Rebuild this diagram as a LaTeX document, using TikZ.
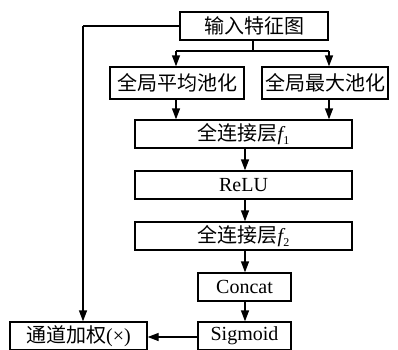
\documentclass[tikz,border=0pt]{standalone}
\usepackage{fontspec}
\setmainfont{Liberation Serif}
\newfontfamily\cjk{Noto Sans CJK SC}
\usetikzlibrary{arrows.meta}
\begin{document}
\begin{tikzpicture}[x=1pt,y=-1pt,
  box/.style={draw, line width=1.3pt, rectangle, inner sep=0pt, font=\fontsize{20}{24}\selectfont},
  arr/.style={line width=1.3pt, -{Triangle[length=11pt,width=8pt]}},
  ln/.style={line width=1.3pt}]
\useasboundingbox (0,0) rectangle (398,349);
\node[box, minimum width=148pt, minimum height=28pt] (in) at (254,26) {\cjk 输入特征图};
\node[box, minimum width=134pt, minimum height=32pt] (avg) at (177,83) {\cjk 全局平均池化};
\node[box, minimum width=126pt, minimum height=32pt] (max) at (325,83) {\cjk 全局最大池化};
\node[box, minimum width=217pt, minimum height=28pt] (fc1) at (243.5,134) {{\cjk 全连接层}{\itshape f}\raisebox{-4pt}{\fontsize{12}{12}\selectfont 1}};
\node[box, minimum width=217pt, minimum height=28pt] (relu) at (243.5,185) {ReLU};
\node[box, minimum width=217pt, minimum height=28pt] (fc2) at (243.5,236) {{\cjk 全连接层}{\itshape f}\raisebox{-4pt}{\fontsize{12}{12}\selectfont 2}};
\node[box, minimum width=93pt, minimum height=28pt] (concat) at (244.5,287) {Concat};
\node[box, minimum width=93pt, minimum height=28pt] (sig) at (244.5,336) {Sigmoid};
\node[box, minimum width=137pt, minimum height=28pt] (wt) at (78.5,336) {{\cjk 通道加权}(×)};
% split
\coordinate (sp) at (253,51);
\coordinate (spl) at (176,51);
\coordinate (spr) at (329,51);
\draw[ln] (in.south -| sp) -- (sp);
\draw[ln] (spl) -- (spr);
\draw[arr] (spl) -- (spl |- avg.north);
\draw[arr] (spr) -- (spr |- max.north);
\draw[arr] (spl |- avg.south) -- (spl |- fc1.north);
\draw[arr] (spr |- max.south) -- (spr |- fc1.north);
\coordinate (cx) at (245,0);
\draw[arr] (cx |- fc1.south) -- (cx |- relu.north);
\draw[arr] (cx |- relu.south) -- (cx |- fc2.north);
\draw[arr] (cx |- fc2.south) -- (cx |- concat.north);
\draw[arr] (cx |- concat.south) -- (cx |- sig.north);
\coordinate (fb) at (83,26);
\draw[ln] (in.west) -- (fb);
\draw[arr] (fb) -- (fb |- wt.north);
\coordinate (hy) at (0,337);
\draw[arr] (sig.west |- hy) -- (wt.east |- hy);
\end{tikzpicture}
\end{document}
